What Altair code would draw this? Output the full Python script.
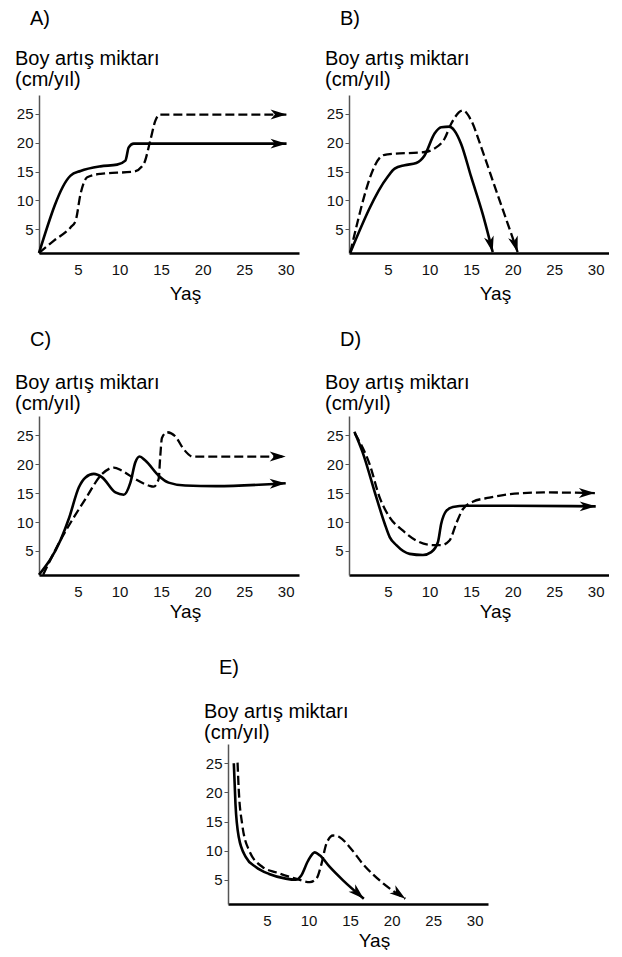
import altair as alt
import pandas as pd

FONT = "Liberation Sans"

# ---------------- data ----------------
A_solid_x = [0.3, 4.1, 5.3, 7.7, 9.7, 10.7, 11.1, 11.7, 30.1]
A_solid_y = [0.85, 14.3, 15.1, 15.9, 16.2, 16.9, 19.2, 19.85, 19.85]
A_dash_x = [0.3, 2.1, 4.1, 4.7, 5.3, 6.1, 7.7, 11.7, 12.9, 13.7, 14.3, 14.8, 30.1]
A_dash_y = [0.85, 3.0, 5.3, 6.4, 11.1, 14.0, 14.6, 15.0, 16.3, 20.4, 23.8, 24.9, 24.9]

B_solid_x = [0.45, 4.96, 5.8, 7.0, 8.4, 9.4, 10.6, 11.4, 12.4, 13.0, 13.8, 15.0, 16.4, 17.6]
B_solid_y = [0.9, 14.1, 15.5, 16.1, 16.5, 17.8, 21.6, 22.7, 22.8, 22.1, 19.8, 14.1, 7.6, 1.0]
B_dash_x = [0.45, 4.35, 4.96, 9.4, 10.6, 11.8, 12.6, 14.0, 15.0, 16.2, 17.8, 19.3, 20.6]
B_dash_y = [0.9, 17.8, 18.0, 18.4, 19.0, 20.7, 23.3, 25.6, 23.9, 19.3, 12.6, 6.4, 1.0]

C_solid_x = [0.3, 2.9, 3.9, 5.1, 5.9, 6.9, 7.9, 9.5, 10.5, 11.3, 11.9, 12.4, 13.1, 14.7, 15.9, 17.9, 21.6, 30.0]
C_solid_y = [0.9, 6.9, 10.6, 16.0, 17.7, 18.3, 17.7, 15.1, 14.7, 16.8, 20.3, 21.3, 20.6, 18.0, 16.8, 16.3, 16.2, 16.7]
C_dash_x = [0.8, 2.9, 3.9, 5.9, 7.9, 9.3, 10.3, 11.9, 13.5, 14.1, 14.7, 14.9, 15.1, 15.7, 16.7, 17.7, 18.8, 21.6, 30.0]
C_dash_y = [0.9, 6.9, 9.4, 14.0, 18.3, 19.4, 18.85, 17.4, 16.3, 16.1, 17.4, 21.4, 24.5, 25.5, 24.8, 22.6, 21.3, 21.3, 21.3]

D_solid_x = [0.95, 1.9, 3.6, 4.6, 5.2, 6.0, 7.6, 9.2, 10.2, 11.0, 11.4, 12.0, 12.8, 14.4, 19.7, 30.0]
D_solid_y = [25.6, 22.2, 14.2, 9.7, 7.4, 6.0, 4.5, 4.3, 4.8, 6.5, 9.7, 11.9, 12.6, 12.8, 12.8, 12.7]
D_dash_x = [1.0, 2.8, 4.0, 5.2, 6.8, 8.4, 10.4, 11.4, 12.4, 13.2, 14.0, 15.2, 17.2, 19.7, 23.7, 29.9]
D_dash_y = [25.3, 19.9, 14.2, 10.8, 8.5, 6.8, 6.0, 6.0, 6.8, 9.7, 12.2, 13.5, 14.2, 14.8, 15.1, 15.0]

E_solid_x = [1.0, 1.2, 1.6, 2.45, 3.65, 5.25, 7.25, 8.45, 9.1, 9.95, 10.75, 11.35, 12.55, 14.15, 16.65]
E_solid_y = [25.0, 18.0, 12.3, 8.9, 7.2, 6.0, 5.2, 5.0, 5.7, 8.3, 9.7, 9.2, 7.2, 4.9, 1.75]
E_dash_x = [1.45, 1.6, 2.0, 2.85, 4.45, 6.05, 8.45, 10.15, 10.95, 11.55, 12.15, 12.95, 13.75, 14.95, 16.55, 19.05, 21.65]
E_dash_y = [25.1, 20.3, 14.6, 10.0, 7.2, 6.3, 5.2, 4.6, 5.2, 7.7, 11.2, 12.6, 12.3, 10.6, 7.7, 4.3, 1.75]

# arrow heads: [solid, dashed] end points and direction (degrees, clockwise from right)
A_arrow_x, A_arrow_y, A_arrow_angle = [30.1, 30.1], [19.85, 24.9], [0, 0]
B_arrow_x, B_arrow_y, B_arrow_angle = [17.6, 20.6], [1.0, 1.0], [76, 73]
C_arrow_x, C_arrow_y, C_arrow_angle = [30.0, 30.0], [16.7, 21.3], [358, 0]
D_arrow_x, D_arrow_y, D_arrow_angle = [30.0, 29.9], [12.7, 15.0], [0, 0]
E_arrow_x, E_arrow_y, E_arrow_angle = [16.65, 21.65], [1.75, 1.75], [42, 36]

x_ticks = [5, 10, 15, 20, 25, 30]
y_ticks = [5, 10, 15, 20, 25]
y_title = ["Boy artış miktarı", "(cm/yıl)"]
x_title = "Yaş"

ARROW = "M0,0 L-2,-0.62 L-1.45,0 L-2,0.62 Z"


def panel(label, sx, sy, dx, dy, ax, ay, aang, height, ytitle_y, xtitle_y):
    solid = pd.DataFrame({"x": sx, "y": sy})
    dashed = pd.DataFrame({"x": dx, "y": dy})
    heads = pd.DataFrame({"x": ax, "y": ay, "angle": aang})
    xs = alt.Scale(domain=[0.3, 31.6], nice=False, zero=False)
    ys = alt.Scale(domain=[0.85, 28.3], nice=False, zero=False)
    xax = alt.Axis(values=x_ticks, title=x_title, ticks=False, domainColor="black",
                   domainWidth=2.6, labelPadding=9, labelFontSize=15, labelColor="#111",
                   labelOverlap=False,
                   titleX=146, titleY=xtitle_y, titleBaseline="alphabetic", titleAlign="center",
                   titleFontSize=19, titleFontWeight="normal", grid=False)
    yax = alt.Axis(values=y_ticks, title=y_title, titleAngle=0, titleAlign="left",
                   titleBaseline="alphabetic", titleX=-24.5, titleY=ytitle_y, titleLineHeight=21,
                   titleFontSize=20, titleFontWeight="normal", domainColor="#555",
                   domainWidth=1.5, tickColor="#555", tickSize=4, tickWidth=1,
                   labelOverlap=False,
                   labelPadding=2, labelFontSize=15, labelColor="#111", grid=False)
    enc = dict(x=alt.X("x:Q", scale=xs, axis=xax), y=alt.Y("y:Q", scale=ys, axis=yax))
    l1 = alt.Chart(solid).mark_line(interpolate="monotone", color="black",
                                    strokeWidth=2.6).encode(**enc)
    l2 = alt.Chart(dashed).mark_line(interpolate="monotone", color="black",
                                     strokeWidth=2.3, strokeDash=[9, 4]).encode(**enc)
    h = alt.Chart(heads).mark_point(shape=ARROW, filled=True, size=256, color="black",
                                    fillOpacity=1, strokeWidth=0).encode(
        angle=alt.Angle("angle:Q", scale=None), **enc)
    lab = alt.Chart(pd.DataFrame({"t": [label]})).mark_text(
        align="left", baseline="alphabetic", font=FONT, fontSize=20, color="black").encode(
        text="t:N", x=alt.value(-9), y=alt.value(-70))
    return alt.layer(l1, l2, h, lab).properties(width=260, height=height)


pA = panel("A)", A_solid_x, A_solid_y, A_dash_x, A_dash_y, A_arrow_x, A_arrow_y, A_arrow_angle, 158, -31, 46)
pB = panel("B)", B_solid_x, B_solid_y, B_dash_x, B_dash_y, B_arrow_x, B_arrow_y, B_arrow_angle, 158, -31, 46)
pC = panel("C)", C_solid_x, C_solid_y, C_dash_x, C_dash_y, C_arrow_x, C_arrow_y, C_arrow_angle, 159, -28, 42)
pD = panel("D)", D_solid_x, D_solid_y, D_dash_x, D_dash_y, D_arrow_x, D_arrow_y, D_arrow_angle, 159, -28, 42)
pE = panel("E)", E_solid_x, E_solid_y, E_dash_x, E_dash_y, E_arrow_x, E_arrow_y, E_arrow_angle, 160, -27, 42)

spacer = alt.Chart(pd.DataFrame({"t": [0]})).mark_rule(strokeOpacity=0).encode(
    x=alt.value(0), x2=alt.value(164), y=alt.value(5)).properties(width=164, height=10)

row1 = alt.hconcat(pA, pB, spacing=25)
row2 = alt.hconcat(pC, pD, spacing=25)
row3 = alt.hconcat(spacer, pE, spacing=0)

top = alt.vconcat(row1, row2, spacing=27)
chart = alt.vconcat(top, row3, spacing=37).properties(
    padding={"left": 6, "top": 1, "right": 0, "bottom": 0}
).configure_view(stroke=None).configure_axis(
    labelFont=FONT, titleFont=FONT, labelOverlap=False
).configure_text(font=FONT)

chart.save("out.html", embed_options={"renderer": "svg", "actions": False})
